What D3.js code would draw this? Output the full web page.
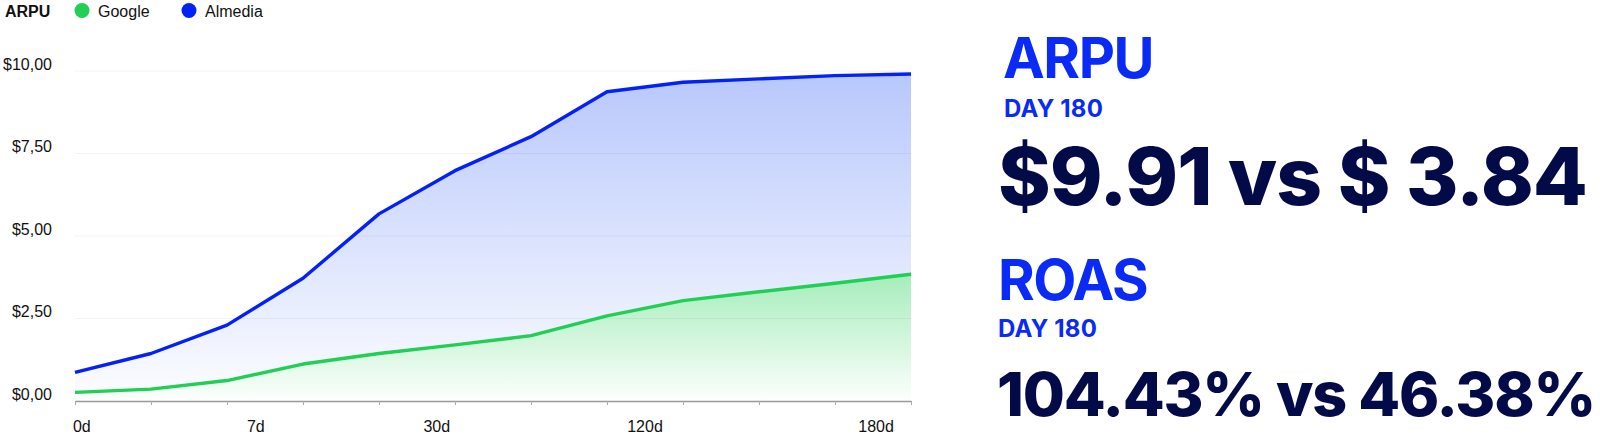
<!DOCTYPE html>
<html>
<head>
<meta charset="utf-8">
<script src="https://cdn.jsdelivr.net/npm/d3@7"></script>
<style>
  body { margin: 0; background: #fff; }
  svg { display: block; }
</style>
</head>
<body>
<svg id="chart" width="1600" height="437"></svg>
<script>
// data
var days = [0, 1, 2, 3, 4, 5, 6, 7, 8, 9, 10, 11];
var google = [0.26, 0.36, 0.62, 1.12, 1.44, 1.70, 1.98, 2.58, 3.04, 3.31, 3.57, 3.84];
var almedia = [0.87, 1.44, 2.30, 3.72, 5.67, 6.98, 8.01, 9.37, 9.66, 9.76, 9.86, 9.91];
var yTicks = [0, 2.5, 5, 7.5, 10];
var xLabels = ["0d", "7d", "30d", "120d", "180d"];
var xLabelAt = [0.09, 2.38, 4.76, 7.5, 10.54];
var seriesNames = ["Google", "Almedia"];

var blue = "#0421f5", green = "#21cf55", navy = "#020b47", headBlue = "#0a2af5";

var svg = d3.select("#chart"),
    margin = {top: 71, left: 75, bottom: 36, right: 689};
var width = 1600, height = 437;

var x = d3.scaleLinear()
    .domain([0, 11])
    .range([margin.left, width - margin.right]);

var y = d3.scaleLinear()
    .domain([0, 10])
    .range([height - margin.bottom, margin.top]);

var defs = svg.append("defs");

function grad(id, color, top, o1, o2) {
    var g = defs.append("linearGradient")
        .attr("id", id)
        .attr("gradientUnits", "userSpaceOnUse")
        .attr("x1", 0).attr("x2", 0)
        .attr("y1", top).attr("y2", y(0));
    g.append("stop").attr("offset", 0).attr("stop-color", color).attr("stop-opacity", o1);
    g.append("stop").attr("offset", 1).attr("stop-color", color).attr("stop-opacity", o2);
}
grad("gBlue", "#1a4cf5", y(d3.max(almedia)), 0.31, 0.01);
grad("gGreen", "#2ad45c", y(d3.max(google)), 0.42, 0.01);

var area = function(vals) {
    return d3.area()
        .x((d, i) => x(days[i]))
        .y0(y(0))
        .y1(d => y(d))(vals);
};
var line = function(vals) {
    return d3.line()
        .x((d, i) => x(days[i]))
        .y(d => y(d))(vals);
};

svg.append("path").attr("d", area(almedia)).attr("fill", "url(#gBlue)");
// green area sits on white, not on the blue tint
svg.append("path").attr("d", area(google)).attr("fill", "#fff");
svg.append("path").attr("d", area(google)).attr("fill", "url(#gGreen)");

// grid
svg.append("g").selectAll("line")
    .data(yTicks.filter(d => d > 0))
    .enter().append("line")
    .attr("x1", x(0)).attr("x2", x(11))
    .attr("y1", d => y(d)).attr("y2", d => y(d))
    .attr("stroke", "#1a1a66")
    .attr("stroke-opacity", 0.05);

// y labels
svg.append("g").selectAll("text")
    .data(yTicks)
    .enter().append("text")
    .attr("x", 52)
    .attr("y", d => y(d) - 1.5)
    .attr("text-anchor", "end")
    .attr("font-family", "Liberation Sans, Arial, sans-serif")
    .attr("font-size", "16px")
    .attr("fill", "#111")
    .text(d => "$" + d.toFixed(2).replace(".", ","));

// x axis
var xAxis = svg.append("g")
    .attr("transform", `translate(0,${y(0)})`)
    .call(d3.axisBottom(x).tickValues(days).tickSize(4).tickSizeOuter(0).tickFormat(""));
xAxis.select(".domain").attr("stroke", "#999").attr("stroke-width", 1.5);
xAxis.selectAll(".tick line").attr("stroke", "#aaa");

svg.append("g").selectAll("text")
    .data(xLabels)
    .enter().append("text")
    .attr("x", (d, i) => x(xLabelAt[i]))
    .attr("y", 432)
    .attr("text-anchor", "middle")
    .attr("font-family", "Liberation Sans, Arial, sans-serif")
    .attr("font-size", "16px")
    .attr("fill", "#111")
    .text(d => d);

// lines
svg.append("path").attr("d", line(almedia))
    .attr("fill", "none").attr("stroke", blue).attr("stroke-width", 3.4).attr("stroke-linejoin", "round");
svg.append("path").attr("d", line(google))
    .attr("fill", "none").attr("stroke", green).attr("stroke-width", 3.4).attr("stroke-linejoin", "round");

// legend
var legend = svg.append("g").attr("font-family", "Liberation Sans, Arial, sans-serif").attr("font-size", "16px");
legend.append("text").attr("x", 5).attr("y", 17).attr("font-weight", "bold").attr("fill", "#111").text("ARPU");
var lx = [82, 189];
[green, blue].forEach(function(c, i) {
    legend.append("circle").attr("cx", lx[i]).attr("cy", 10.5).attr("r", 7.5).attr("fill", c);
    legend.append("text").attr("x", lx[i] + 16).attr("y", 17).attr("fill", "#111").text(seriesNames[i]);
});

// right panel: fit each text to its width with letter spacing
var panel = svg.append("g").attr("font-family", "Inter, Roboto, sans-serif");
function big(txt, xx, yy, size, weight, color, len) {
    var t = panel.append("text")
        .attr("x", xx).attr("y", yy)
        .attr("font-size", size + "px")
        .attr("font-weight", weight)
        .attr("fill", color)
        .text(txt);
    var w = t.node().getComputedTextLength();
    var ls = (len - w) / txt.length;
    t.attr("letter-spacing", ls.toFixed(2) + "px");
    return t;
}
big("ARPU", 1003, 78, 56, 700, headBlue, 150);
big("DAY 180", 1004, 117, 24, 700, headBlue, 99);
big("$9.91 vs $ 3.84", 998, 205, 80, 800, navy, 589);
big("ROAS", 998, 300, 56, 700, headBlue, 149);
big("DAY 180", 998, 337, 24, 700, headBlue, 99);
big("104.43% vs 46.38%", 997, 416, 61, 800, navy, 598);
</script>
</body>
</html>
